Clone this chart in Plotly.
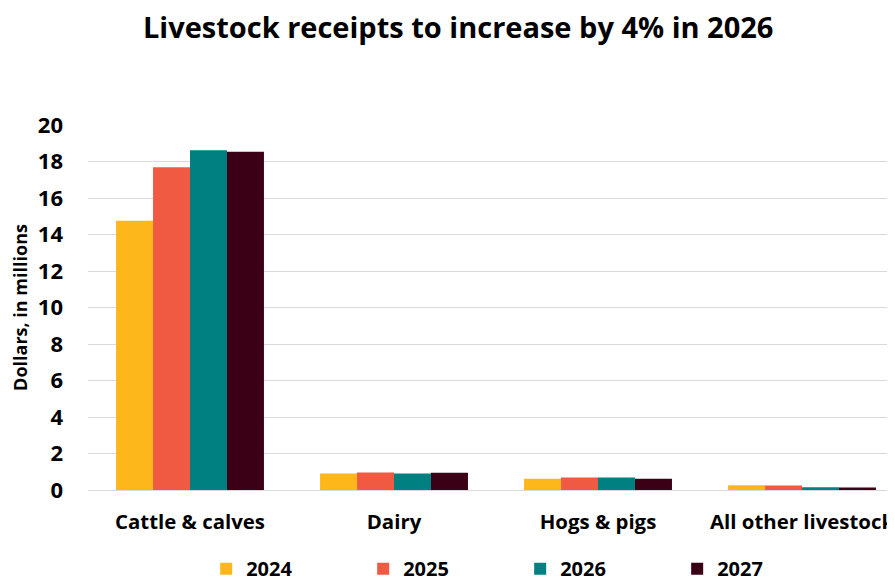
import plotly.graph_objects as go

categories = ["Cattle & calves", "Dairy", "Hogs & pigs", "All other livestock"]
years = ["2024", "2025", "2026", "2027"]
v2024 = [14.75, 0.91, 0.62, 0.26]
v2025 = [17.68, 0.96, 0.68, 0.24]
v2026 = [18.62, 0.91, 0.68, 0.15]
v2027 = [18.53, 0.95, 0.62, 0.14]
series = [v2024, v2025, v2026, v2027]
colors = ["#FDB71A", "#F15A42", "#008080", "#3B0016"]

font_family = "Open Sans"

fig = go.Figure()
for name, vals, col in zip(years, series, colors):
    fig.add_trace(go.Bar(name=name, x=categories, y=vals, marker_color=col,
                         marker_line_width=0))

fig.update_layout(
    width=895, height=584,
    paper_bgcolor="white", plot_bgcolor="white",
    margin=dict(l=80, r=0, t=117, b=102, autoexpand=False),
    barmode="group", bargap=0.275, bargroupgap=0,
    font=dict(family=font_family, color="black"),
    title=dict(text="Livestock receipts to increase by 4% in 2026",
               x=0.503, xanchor="center", y=0.966, yanchor="middle",
               font=dict(size=29, weight="bold", family=font_family)),
    legend=dict(orientation="h", x=0.145, xanchor="left",
                y=0.040, yref="container", yanchor="middle",
                entrywidth=112, entrywidthmode="pixels",
                font=dict(size=20, weight="bold", family=font_family),
                itemclick=False),
    xaxis=dict(range=[-0.5, 3.495], showgrid=False, showline=False, ticks="",
               automargin=False,
               tickfont=dict(size=20.4, weight="bold"), ticklabelstandoff=18),
    yaxis=dict(range=[0, 20], dtick=2, showgrid=True, gridcolor="#D9D9D9",
               gridwidth=1, zeroline=True, zerolinecolor="#D9D9D9", zerolinewidth=1,
               showline=False, ticks="", tickfont=dict(size=22, weight="bold"),
               ticklabelstandoff=24, automargin=False,
               title=dict(text="Dollars, in millions", standoff=6,
                          font=dict(size=18, weight="bold"))),
)

fig.write_html("out.html")
